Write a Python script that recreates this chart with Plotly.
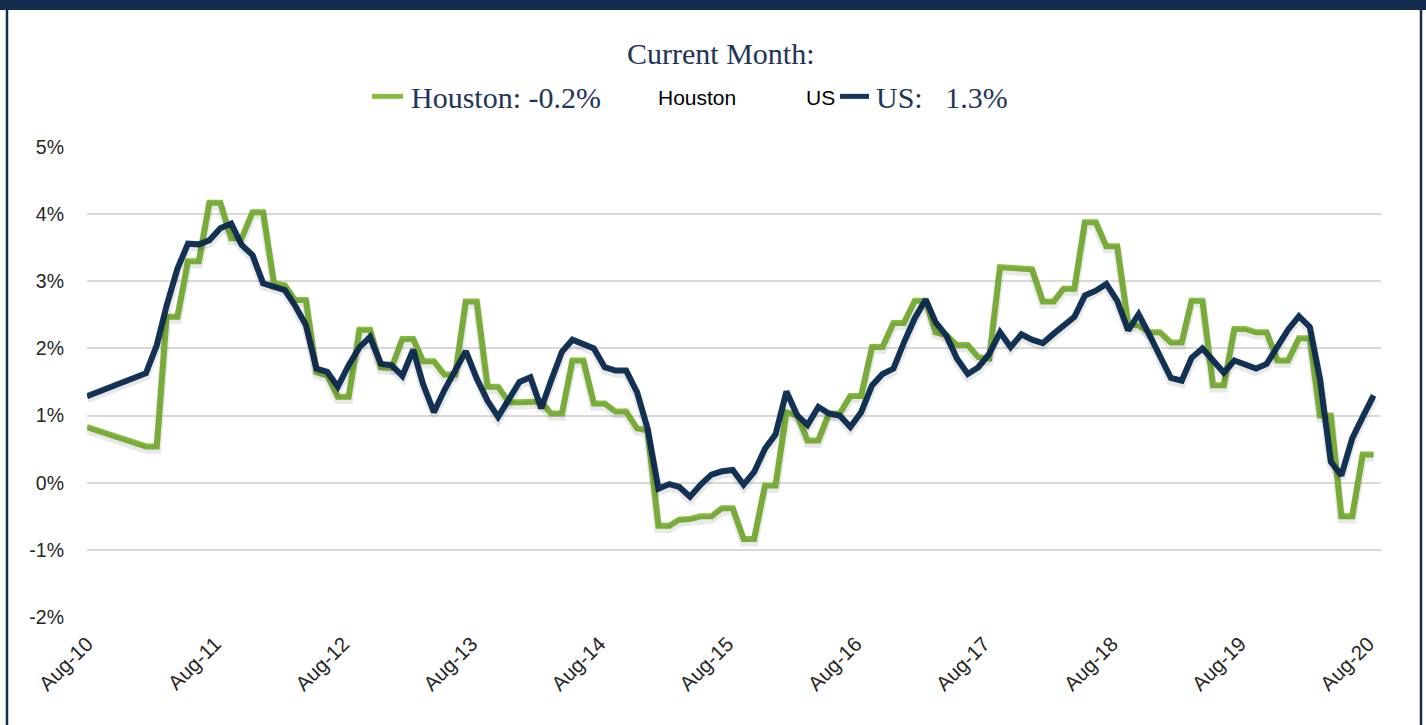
import plotly.graph_objects as go
import pandas as pd

# ---------------- data ----------------
first_date = ["2010-08-01"]
monthly = pd.date_range("2011-01-16", "2020-08-16", freq=pd.DateOffset(months=1))
dates = first_date + [d.strftime("%Y-%m-%d") for d in monthly]

houston = [0.83,
    0.54, 0.54, 2.47, 2.47, 3.30, 3.30, 4.17, 4.17, 3.64, 3.64, 4.03, 4.03,
    2.97, 2.94, 2.72, 2.72, 1.65, 1.60, 1.28, 1.28, 2.28, 2.28, 1.72, 1.71,
    2.14, 2.14, 1.81, 1.81, 1.61, 1.61, 2.70, 2.70, 1.43, 1.43, 1.20, 1.20,
    1.21, 1.21, 1.03, 1.03, 1.82, 1.82, 1.18, 1.18, 1.06, 1.06, 0.81, 0.78,
    -0.64, -0.64, -0.55, -0.54, -0.50, -0.50, -0.38, -0.38, -0.84, -0.84, -0.04, -0.04,
    1.05, 1.00, 0.63, 0.63, 1.03, 1.03, 1.29, 1.29, 2.02, 2.02, 2.38, 2.38,
    2.71, 2.71, 2.24, 2.20, 2.05, 2.05, 1.87, 1.85, 3.21, 3.20, 3.20, 3.18,
    2.70, 2.70, 2.89, 2.89, 3.88, 3.88, 3.52, 3.52, 2.37, 2.34, 2.24, 2.24,
    2.09, 2.09, 2.71, 2.71, 1.45, 1.45, 2.29, 2.29, 2.24, 2.24, 1.82, 1.82,
    2.15, 2.15, 1.00, 1.00, -0.50, -0.50, 0.42, 0.42]

us = [1.29,
    1.63, 2.05, 2.64, 3.19, 3.56, 3.55, 3.61, 3.79, 3.86, 3.54, 3.39, 2.97,
    2.93, 2.87, 2.64, 2.35, 1.70, 1.65, 1.43, 1.75, 2.02, 2.17, 1.77, 1.75,
    1.59, 1.98, 1.47, 1.05, 1.38, 1.68, 1.96, 1.55, 1.22, 0.98, 1.25, 1.50,
    1.57, 1.11, 1.52, 1.95, 2.13, 2.07, 2.00, 1.72, 1.67, 1.67, 1.35, 0.81,
    -0.09, -0.02, -0.06, -0.21, -0.03, 0.12, 0.17, 0.19, -0.03, 0.16, 0.51, 0.72,
    1.36, 1.00, 0.86, 1.13, 1.03, 1.00, 0.83, 1.05, 1.45, 1.62, 1.70, 2.09,
    2.45, 2.73, 2.39, 2.19, 1.85, 1.62, 1.72, 1.92, 2.24, 2.02, 2.21, 2.13,
    2.08, 2.22, 2.35, 2.47, 2.79, 2.86, 2.96, 2.71, 2.27, 2.51, 2.20, 1.90,
    1.56, 1.52, 1.86, 2.00, 1.82, 1.64, 1.82, 1.77, 1.70, 1.77, 2.05, 2.28,
    2.48, 2.32, 1.55, 0.31, 0.11, 0.66, 0.98, 1.30]

y_ticks = [-2, -1, 0, 1, 2, 3, 4, 5]
y_tick_labels = ["-2%", "-1%", "0%", "1%", "2%", "3%", "4%", "5%"]

title_text = "Current Month:"
legend_houston = "Houston: -0.2%"
legend_us = "US:\u00a0\u00a0 1.3%"
extra_labels = ["Houston", "US"]

# ---------------- layout geometry ----------------
W, H = 1426, 725
L, R = 87, 1381
T, B = 146.7, 617.3
GREEN = "#86bc40"
NAVY = "#15375c"
FRAME = "#132c4f"
TEXT_NAVY = "#1f3458"

def px(x):
    return (x - L) / (R - L)

def py(y):
    return (B - y) / (B - T)

x_range = ["2010-08-01", "2020-09-06"]
fig = go.Figure()

# soft shadows (same data drawn on a slightly offset overlay axis)
for vals in (houston, us):
    fig.add_trace(go.Scatter(x=dates, y=vals, mode="lines", xaxis="x2", yaxis="y2",
                             line=dict(color="rgba(0,0,0,0.09)", width=8.5),
                             hoverinfo="skip", showlegend=False))

fig.add_trace(go.Scatter(x=dates, y=houston, mode="lines", name="Houston",
                         line=dict(color=GREEN, width=6), showlegend=False))
fig.add_trace(go.Scatter(x=dates, y=us, mode="lines", name="US",
                         line=dict(color=NAVY, width=6), showlegend=False))

shift_y = 3.0 / ((B - T) / 7.0)
fig.update_layout(
    width=W, height=H,
    margin=dict(l=L, r=W - R, t=T, b=H - B, pad=0),
    paper_bgcolor="white", plot_bgcolor="white",
    font=dict(family="Liberation Sans, Arial, sans-serif", size=19, color="#262626"),
    xaxis=dict(type="date", range=x_range, tickformat="%b-%y", dtick="M12",
               tick0="2010-08-01", tickangle=-45, showgrid=False, zeroline=False,
               showline=False, ticks="", ticklabelstandoff=10,
               tickfont=dict(size=20.5, color="#262626")),
    yaxis=dict(range=[-2, 5], tickvals=y_ticks, ticktext=y_tick_labels,
               showgrid=True, gridcolor="#d9d9d9", gridwidth=1.5, zeroline=False,
               showline=False, ticks="", ticklabelstandoff=22,
               tickfont=dict(size=19.5, color="#262626")),
    xaxis2=dict(type="date", overlaying="x", visible=False,
                range=["2010-07-31T18:00:00", "2020-09-05T18:00:00"]),
    yaxis2=dict(overlaying="y", visible=False, range=[-2 + shift_y, 5 + shift_y]),
    showlegend=False,
)

shapes = []
# frame: top band and side borders
shapes.append(dict(type="rect", xref="paper", yref="paper", x0=px(-2), x1=px(W + 2),
                   y0=py(-2), y1=py(9.5), fillcolor=FRAME, line=dict(width=0), layer="above"))
shapes.append(dict(type="line", xref="paper", yref="paper", x0=px(7), x1=px(7),
                   y0=py(5), y1=py(H + 2), line=dict(color=FRAME, width=2.5)))
shapes.append(dict(type="line", xref="paper", yref="paper", x0=px(1421), x1=px(1421),
                   y0=py(5), y1=py(H + 2), line=dict(color=FRAME, width=2.5)))
# legend line samples
shapes.append(dict(type="line", xref="paper", yref="paper", x0=px(372), x1=px(403),
                   y0=py(96), y1=py(96), line=dict(color=GREEN, width=5)))
shapes.append(dict(type="line", xref="paper", yref="paper", x0=px(840), x1=px(869),
                   y0=py(96), y1=py(96), line=dict(color=NAVY, width=5)))
fig.update_layout(shapes=shapes)

serif = "Liberation Serif, Times New Roman, serif"
ann = [
    dict(text=title_text, x=px(721), y=py(53), xanchor="center", yanchor="middle",
         font=dict(family=serif, size=30, color=TEXT_NAVY)),
    dict(text=legend_houston, x=px(409), y=py(97), xanchor="left", yanchor="middle",
         font=dict(family=serif, size=30, color=TEXT_NAVY)),
    dict(text=extra_labels[0], x=px(656), y=py(97), xanchor="left", yanchor="middle",
         font=dict(family="Liberation Sans, Arial, sans-serif", size=21, color="#000000")),
    dict(text=extra_labels[1], x=px(804), y=py(97), xanchor="left", yanchor="middle",
         font=dict(family="Liberation Sans, Arial, sans-serif", size=21, color="#000000")),
    dict(text=legend_us, x=px(874), y=py(97), xanchor="left", yanchor="middle",
         font=dict(family=serif, size=30, color=TEXT_NAVY)),
]
for a in ann:
    a.update(xref="paper", yref="paper", showarrow=False)
fig.update_layout(annotations=ann)

fig.write_html("out.html", config={"displayModeBar": False},
               post_script="document.body.style.margin='0px';document.body.style.overflow='hidden';")
